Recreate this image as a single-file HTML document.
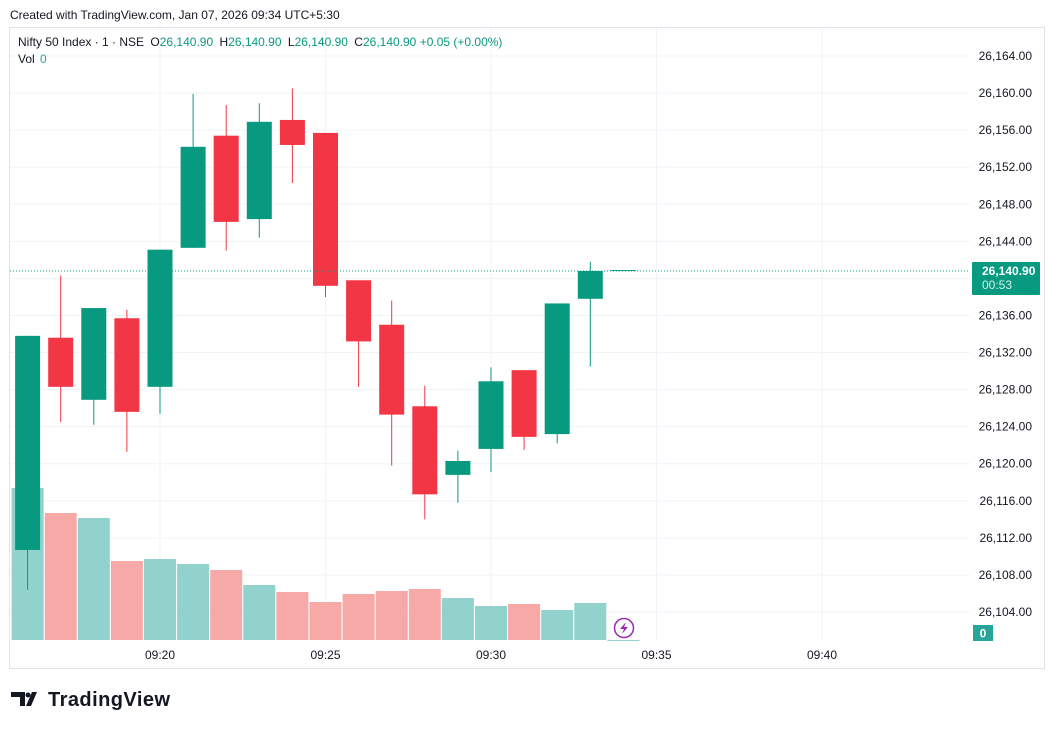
<!DOCTYPE html>
<html><head><meta charset="utf-8"><style>
body{margin:0;background:#fff;font-family:"Liberation Sans",sans-serif;}
svg{display:block}
</style></head><body>
<svg width="1054" height="729" xmlns="http://www.w3.org/2000/svg" font-family="Liberation Sans, sans-serif">
<text x="10" y="19" font-size="12" fill="#131722">Created with TradingView.com, Jan 07, 2026 09:34 UTC+5:30</text>
<rect x="9.5" y="27.5" width="1035" height="641" fill="#fff" stroke="#e0e3eb"/>
<g id="grid"></g>
<g id="vol"></g>
<g id="candles"></g>
<g id="axis"></g>
<line x1="10" x2="970" y1="271" y2="271" stroke="#089981" stroke-dasharray="1,2"/>
<rect x="972" y="262" width="68" height="33" rx="1" fill="#089981"/>
<text x="982" y="275" font-size="12" font-weight="bold" fill="#fff">26,140.90</text>
<text x="982" y="289" font-size="12" fill="#d6f0ec">00:53</text>
<rect x="973" y="625" width="20" height="16" fill="#26a69a"/>
<text x="983" y="637.5" font-size="12" font-weight="bold" fill="#fff" text-anchor="middle">0</text>
<circle cx="624" cy="628" r="9.5" fill="none" stroke="#9c27b0" stroke-width="1.5"/>
<path d="M626 622 L620 629 L624 629 L622 634 L628 627 L624 627 Z" fill="#9c27b0"/>
<text x="18" y="46" font-size="12" fill="#131722">Nifty 50 Index · 1 · NSE  <tspan dx="3">O</tspan><tspan fill="#089981">26,140.90</tspan> <tspan dx="3">H</tspan><tspan fill="#089981">26,140.90</tspan> <tspan dx="3">L</tspan><tspan fill="#089981">26,140.90</tspan> <tspan dx="3">C</tspan><tspan fill="#089981">26,140.90 +0.05 (+0.00%)</tspan></text>
<text x="18" y="63" font-size="12" fill="#131722">Vol <tspan fill="#26a69a" dx="2">0</tspan></text>
<g>
<path d="M11 692 h14 v14 h-5 v-9 h-9 z M26 706 l6 -14 h5 l-6 14 z" fill="#131722"/>
<circle cx="28" cy="695" r="2.5" fill="#131722"/>
<text x="48" y="706" font-size="20" font-weight="bold" fill="#131722" textLength="122">TradingView</text>
</g>
</svg>
<script>
const times=["09:16","09:17","09:18","09:19","09:20","09:21","09:22","09:23","09:24","09:25","09:26","09:27","09:28","09:29","09:30","09:31","09:32","09:33","09:34"];
const opens=[26110.7,26133.6,26126.9,26135.7,26128.3,26143.3,26155.4,26146.4,26157.1,26155.7,26139.8,26135.0,26126.2,26118.8,26121.6,26130.1,26123.2,26137.8,26140.9];
const highs=[26133.8,26140.3,26136.8,26136.6,26143.1,26159.9,26158.7,26158.9,26160.5,26155.7,26139.8,26137.6,26128.4,26121.4,26130.4,26130.1,26137.3,26141.8,26140.9];
const lows=[26106.4,26124.5,26124.2,26121.3,26125.4,26143.3,26143.0,26144.4,26150.3,26138.0,26128.3,26119.8,26114.0,26115.8,26119.1,26121.5,26122.2,26130.5,26140.9];
const closes=[26133.8,26128.3,26136.8,26125.6,26143.1,26154.2,26146.1,26156.9,26154.4,26139.2,26133.2,26125.3,26116.7,26120.3,26128.9,26122.9,26137.3,26140.8,26140.9];
const volumes=[152,127,122,79,81,76,70,55,48,38,46,49,51,42,34,36,30,37,0];
const priceTicks=[26164,26160,26156,26152,26148,26144,26140,26136,26132,26128,26124,26120,26116,26112,26108,26104];
const timeTicks=["09:20","09:25","09:30","09:35","09:40"];
const NS="http://www.w3.org/2000/svg";
function y(p){return 56+(26164-p)*9.267;}
function xi(i){return 27.6+i*33.1;}
function xt(t){const[h,m]=t.split(":").map(Number);return xi(h*60+m-(9*60+16));}
function vy(v){return 640-v*1.0;}
function mk(parent,tag,attrs){const e=document.createElementNS(NS,tag);for(const k in attrs)e.setAttribute(k,attrs[k]);document.getElementById(parent).appendChild(e);return e;}
priceTicks.forEach(p=>{
 const l=mk("grid","line",{x1:10,x2:970,y1:y(p),y2:y(p),stroke:"#f0f3fa"});
 
 
 const t=mk("axis","text",{x:1032,y:y(p)+4,"font-size":12,fill:"#131722","text-anchor":"end"});
 t.textContent=p.toLocaleString("en-US",{minimumFractionDigits:2});
 
 
});
timeTicks.forEach(tk=>{
 const l=mk("grid","line",{x1:xt(tk),x2:xt(tk),y1:28,y2:641,stroke:"#f0f3fa"});
 
 
 const t=mk("axis","text",{x:xt(tk),y:659,"font-size":12,fill:"#131722","text-anchor":"middle"});
 t.textContent=tk;
 
 
});
times.forEach((tm,i)=>{
 const up=closes[i]>=opens[i];
 const x=xi(i);
 const vb=mk("vol","rect",{x:x-16,y:vy(volumes[i]),width:32,height:Math.max(640-vy(volumes[i]),1),fill:up?"#92d2cc":"#f7a9a7"});
 
 
 const c=up?"#089981":"#f23645";
 const w=mk("candles","line",{x1:x,x2:x,y1:y(highs[i]),y2:y(lows[i]),stroke:c,"stroke-width":1});
 
 
 const top=y(Math.max(opens[i],closes[i])),bot=y(Math.min(opens[i],closes[i]));
 const b=mk("candles","rect",{x:x-12.5,y:top,width:25,height:Math.max(bot-top,1),fill:c});
 
 
});
</script>
</body></html>
